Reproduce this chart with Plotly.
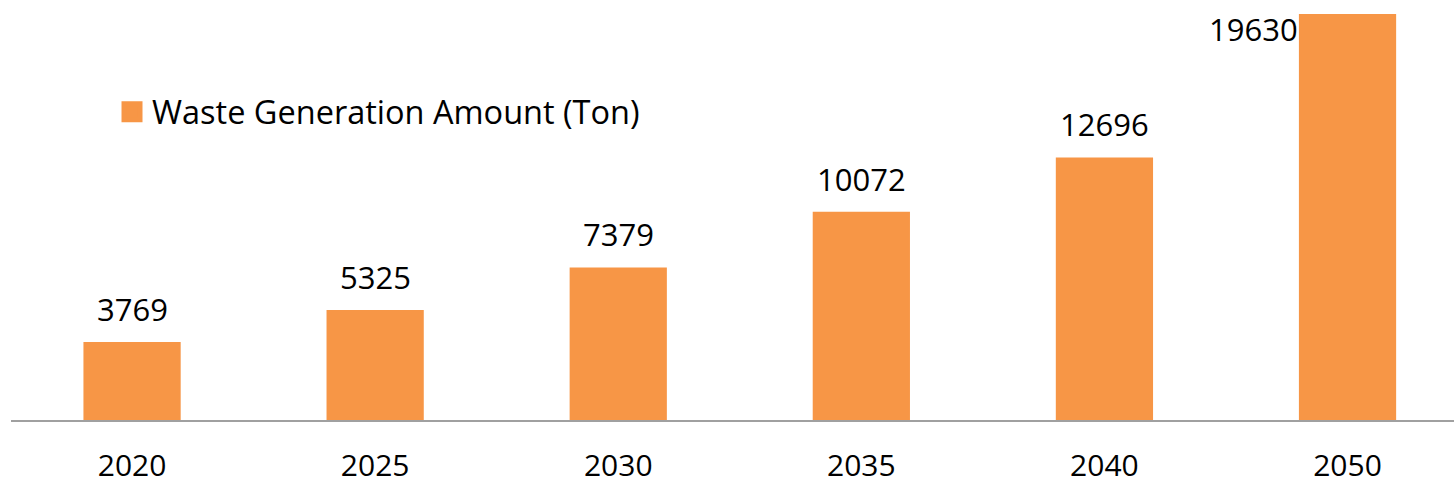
import plotly.graph_objects as go

years = ["2020", "2025", "2030", "2035", "2040", "2050"]
waste_tons = [3769, 5325, 7379, 10072, 12696, 19630]
series_name = "Waste Generation Amount (Ton)"

BAR_COLOR = "#F79646"
FONT = "Open Sans"

fig = go.Figure()
fig.add_trace(
    go.Bar(
        x=years,
        y=waste_tons,
        name=series_name,
        marker_color=BAR_COLOR,
        marker_line_width=0,
        width=0.4,
        showlegend=False,
    )
)
# legend entry with a bigger square swatch than the bar icon gives
fig.add_trace(
    go.Scatter(
        x=[None], y=[None], mode="markers", name=series_name,
        marker=dict(symbol="square", size=16, color=BAR_COLOR,
                    line=dict(color=BAR_COLOR, width=5)),
    )
)

# value labels: above the bar, except the tallest which sits beside its top (no room above)
for i, val in enumerate(waste_tons):
    if val == max(waste_tons):
        fig.add_annotation(x=i, y=val, text=str(val), showarrow=False,
                           xanchor="right", yanchor="top", xshift=-48, yshift=8,
                           font=dict(family=FONT, size=31, color="#000000"))
    else:
        fig.add_annotation(x=i, y=val, text=str(val), showarrow=False,
                           xanchor="center", yanchor="bottom", yshift=10,
                           font=dict(family=FONT, size=31, color="#000000"))

fig.update_layout(
    width=1454,
    height=485,
    margin=dict(l=11, r=0, t=0, b=65, autoexpand=False),
    paper_bgcolor="white",
    plot_bgcolor="white",
    font=dict(family=FONT, size=31, color="#000000"),
    showlegend=True,
    legend=dict(x=0.07, y=0.733, xanchor="left", yanchor="middle",
                bgcolor="rgba(0,0,0,0)", font=dict(family=FONT, size=32.5),
                itemsizing="trace"),
    bargap=0.6,
)
fig.update_xaxes(
    type="category",
    range=[-0.498, 5.438],
    automargin=False,
    showline=True,
    linecolor="#A0A0A0",
    linewidth=2,
    showgrid=False,
    ticks="",
    ticklabelstandoff=18,
    tickfont=dict(family=FONT, size=30),
)
fig.update_yaxes(
    range=[0, 20310],
    visible=False,
    automargin=False,
    showgrid=False,
    zeroline=False,
)

fig.write_html("out.html", config={"displayModeBar": False},
               post_script="document.body.style.margin='0';")
